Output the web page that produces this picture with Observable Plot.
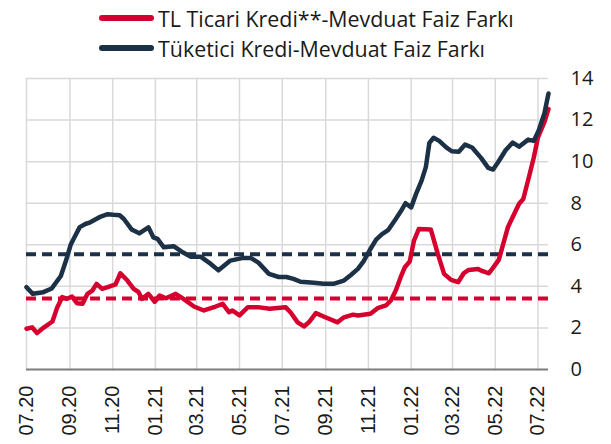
<!DOCTYPE html>
<html>
<head>
<meta charset="utf-8">
<script src="https://cdn.jsdelivr.net/npm/d3@7"></script>
<script src="https://cdn.jsdelivr.net/npm/@observablehq/plot@0.6"></script>
<style>
  html, body { margin: 0; padding: 0; background: #fff; }
  #legend { height: 61px; padding-top: 3px; font-family: "Open Sans", sans-serif; font-size: 21.4px; color: #1a1a1a; }
  .row { height: 30px; display: flex; align-items: center; margin-left: 99px; }
  .sw { width: 55px; height: 6px; border-radius: 3px; margin-right: 4px; }
  #chart svg { display: block; }
</style>
</head>
<body>
<div id="legend"></div>
<div id="chart"></div>
<script>
const seriesNames = ["TL Ticari Kredi**-Mevduat Faiz Farkı", "Tüketici Kredi-Mevduat Faiz Farkı"];
const seriesColors = ["#d6002f", "#1c3046"];

const ticariDates = ["2020-07-01","2020-07-09","2020-07-16","2020-07-26","2020-08-07","2020-08-14","2020-08-21","2020-08-28","2020-09-04","2020-09-11","2020-09-19","2020-09-26","2020-10-03","2020-10-09","2020-10-17","2020-10-27","2020-11-05","2020-11-12","2020-11-22","2020-12-01","2020-12-08","2020-12-13","2020-12-22","2020-12-31","2021-01-07","2021-01-16","2021-01-30","2021-02-10","2021-02-25","2021-03-11","2021-03-28","2021-04-07","2021-04-16","2021-04-21","2021-05-01","2021-05-13","2021-05-27","2021-06-13","2021-07-06","2021-07-13","2021-07-23","2021-08-01","2021-08-08","2021-08-18","2021-08-29","2021-09-18","2021-09-27","2021-10-10","2021-10-17","2021-11-04","2021-11-14","2021-11-26","2021-12-03","2021-12-10","2021-12-17","2021-12-23","2021-12-30","2022-01-05","2022-01-12","2022-01-29","2022-02-08","2022-02-17","2022-02-27","2022-03-09","2022-03-17","2022-03-24","2022-04-06","2022-04-13","2022-04-22","2022-04-29","2022-05-06","2022-05-19","2022-05-28","2022-06-04","2022-06-10","2022-06-18","2022-06-25","2022-07-01","2022-07-10","2022-07-16"];
const ticariValues = [1.96,2.03,1.75,2.03,2.31,3.0,3.48,3.4,3.51,3.19,3.16,3.64,3.8,4.12,3.88,3.99,4.09,4.63,4.28,3.88,3.72,3.4,3.64,3.26,3.56,3.43,3.64,3.4,3.03,2.84,3.03,3.16,2.76,2.84,2.6,3.0,3.0,2.92,2.99,2.74,2.27,2.07,2.27,2.71,2.55,2.27,2.51,2.64,2.6,2.68,2.95,3.08,3.32,3.8,4.44,4.92,5.2,6.2,6.76,6.74,5.56,4.6,4.31,4.2,4.63,4.79,4.84,4.73,4.63,4.95,5.27,6.84,7.48,7.97,8.2,9.25,10.2,11.17,11.89,12.53];

const tuketiciDates = ["2020-07-01","2020-07-10","2020-07-25","2020-08-06","2020-08-19","2020-08-27","2020-09-02","2020-09-08","2020-09-15","2020-09-23","2020-09-30","2020-10-15","2020-10-25","2020-11-02","2020-11-11","2020-11-17","2020-11-28","2020-12-09","2020-12-22","2020-12-29","2021-01-04","2021-01-13","2021-01-27","2021-02-09","2021-02-20","2021-03-07","2021-03-21","2021-04-01","2021-04-18","2021-05-06","2021-05-17","2021-05-28","2021-06-12","2021-06-26","2021-07-07","2021-07-17","2021-07-27","2021-08-15","2021-08-29","2021-09-13","2021-09-27","2021-10-07","2021-10-17","2021-10-25","2021-11-03","2021-11-12","2021-11-20","2021-11-29","2021-12-10","2021-12-17","2021-12-24","2022-01-01","2022-01-08","2022-01-16","2022-01-22","2022-01-27","2022-02-02","2022-02-10","2022-02-20","2022-02-28","2022-03-10","2022-03-19","2022-03-29","2022-04-11","2022-04-21","2022-04-28","2022-05-05","2022-05-16","2022-05-26","2022-06-04","2022-06-17","2022-06-25","2022-07-02","2022-07-10","2022-07-16"];
const tuketiciValues = [3.96,3.64,3.72,3.9,4.5,5.3,6.0,6.4,6.85,7.0,7.08,7.36,7.47,7.44,7.42,7.24,6.74,6.55,6.84,6.36,6.28,5.88,5.93,5.64,5.43,5.42,5.08,4.77,5.24,5.37,5.37,5.14,4.6,4.45,4.45,4.36,4.22,4.17,4.13,4.13,4.28,4.55,4.84,5.2,5.75,6.25,6.5,6.7,7.24,7.6,8.0,7.8,8.45,9.1,9.75,10.9,11.15,11.0,10.69,10.5,10.48,10.82,10.68,10.17,9.7,9.62,9.97,10.56,10.92,10.72,11.06,11.0,11.5,12.3,13.28];

const averages = [3.41, 5.54];
const yTicks = [0, 2, 4, 6, 8, 10, 12, 14];
const xTickDates = ["2020-07-01","2020-09-01","2020-11-01","2021-01-01","2021-03-01","2021-05-01","2021-07-01","2021-09-01","2021-11-01","2022-01-01","2022-03-01","2022-05-01","2022-07-01"];
const xDomain = ["2020-07-01", "2022-07-16"];

const parse = d3.utcParse("%Y-%m-%d");
const ticari = ticariDates.map((d, i) => ({date: parse(d), value: ticariValues[i]}));
const tuketici = tuketiciDates.map((d, i) => ({date: parse(d), value: tuketiciValues[i]}));

// Legend
const legend = document.getElementById("legend");
seriesNames.forEach((n, i) => {
  const row = document.createElement("div");
  row.className = "row";
  const sw = document.createElement("div");
  sw.className = "sw";
  sw.style.background = seriesColors[i];
  const t = document.createElement("span");
  t.textContent = n;
  row.append(sw, t);
  legend.append(row);
});

const chart = Plot.plot({
  width: 611,
  height: 380,
  marginTop: 14,
  marginBottom: 75,
  marginLeft: 26,
  marginRight: 63,
  style: {fontFamily: "'Open Sans', sans-serif", color: "#1a1a1a", background: "#fff"},
  x: {type: "utc", domain: xDomain.map(parse), label: null},
  y: {domain: [0, 14], label: null},
  marks: [
    Plot.gridX(xTickDates.map(parse), {stroke: "#d9d9d9", strokeOpacity: 1, strokeWidth: 1.5}),
    Plot.gridY(yTicks, {stroke: "#d9d9d9", strokeOpacity: 1, strokeWidth: 1.5}),
    Plot.ruleY([yTicks[0]], {stroke: "#7f7f7f", strokeWidth: 2}),
    Plot.axisY(yTicks, {anchor: "right", label: null, tickSize: 0, tickPadding: 22, fontSize: 20, fill: "#1a1a1a"}),
    Plot.axisX(xTickDates.map(parse), {anchor: "bottom", label: null, tickSize: 0, tickPadding: 16, tickRotate: -90, tickFormat: d3.utcFormat("%m.%y"), fontSize: 20, fontFamily: "'Liberation Sans', Arial, sans-serif", fill: "#1a1a1a"}),
    Plot.ruleY([averages[0]], {stroke: seriesColors[0], strokeWidth: 4, strokeDasharray: "10,6"}),
    Plot.ruleY([averages[1]], {stroke: seriesColors[1], strokeWidth: 4, strokeDasharray: "10,6"}),
    Plot.line(ticari, {x: "date", y: "value", stroke: seriesColors[0], strokeWidth: 4.5, strokeLinejoin: "round", strokeLinecap: "round"}),
    Plot.line(tuketici, {x: "date", y: "value", stroke: seriesColors[1], strokeWidth: 4.5, strokeLinejoin: "round", strokeLinecap: "round"})
  ]
});
document.getElementById("chart").append(chart);
</script>
</body>
</html>
